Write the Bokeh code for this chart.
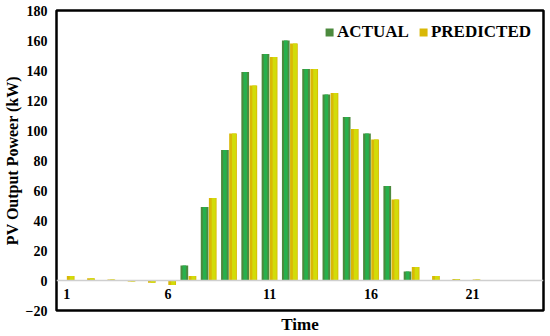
from bokeh.plotting import figure
from bokeh.models import (LinearAxis, FixedTicker, Range1d, Legend, LegendItem,
                          Title, ColumnDataSource)
from bokeh.transform import dodge
from bokeh.embed import file_html
from bokeh.resources import INLINE

hours = list(range(1, 25))
actual = [0, 0, 0, 0, 0, 0, 10, 49, 87, 139, 151, 160, 141, 124, 109, 98, 63, 6,
          0, 0, 0, 0, 0, 0]
predicted = [3, 1.5, 0.6, -0.6, -1.5, -3, 3, 55, 98, 130, 149, 158, 141, 125, 101,
             94, 54, 9, 3, 1, 0.6, 0.4, 0.3, 0.3]
x_ticks = [1, 6, 11, 16, 21]
y_ticks = [-20, 0, 20, 40, 60, 80, 100, 120, 140, 160, 180]

src = ColumnDataSource(dict(hour=hours, actual=actual, predicted=predicted))

FONT = "Liberation Serif"

p = figure(width=550, height=336, output_backend="svg", toolbar_location=None,
           x_range=Range1d(0.5, 24.5), y_range=Range1d(-20, 180),
           x_axis_location=None, min_border_top=10, min_border_right=7,
           min_border_bottom=0, min_border_left=2)
p.grid.visible = False
p.outline_line_color = "black"
p.outline_line_width = 2.5
p.background_fill_color = "white"
p.border_fill_color = "white"

# y axis
ya = p.yaxis[0]
ya.ticker = FixedTicker(ticks=y_ticks)
ya.axis_line_color = None
ya.major_tick_line_color = None
ya.minor_tick_line_color = None
ya.major_tick_out = 0
ya.major_tick_in = 0
ya.major_label_standoff = 9
ya.major_label_text_font = FONT
ya.major_label_text_font_style = "bold"
ya.major_label_text_font_size = "14px"
ya.major_label_text_color = "black"
ya.axis_label = "PV Output Poweer (kW)"
ya.axis_label_text_font = FONT
ya.axis_label_text_font_style = "bold"
ya.axis_label_text_font_size = "16px"
ya.axis_label_text_color = "black"
ya.axis_label_standoff = 2

# bars
a_outer = p.vbar(x=dodge("hour", -0.2, range=p.x_range), top="actual", bottom=0,
                 width=0.38, source=src, fill_color="#4c8a3e", line_color=None)
p.vbar(x=dodge("hour", -0.2, range=p.x_range), top="actual", bottom=0,
       width=0.18, source=src, fill_color="#27b04c", line_color=None)
p_outer = p.vbar(x=dodge("hour", 0.2, range=p.x_range), top="predicted", bottom=0,
                 width=0.38, source=src, fill_color="#d9b806", line_color=None)
p.vbar(x=dodge("hour", 0.25, range=p.x_range), top="predicted", bottom=0,
       width=0.2, source=src, fill_color="#d2dc0a", line_color=None)

# x axis crossing at zero
xa = LinearAxis(fixed_location=0, ticker=FixedTicker(ticks=x_ticks))
xa.axis_line_color = "#cfcfcf"
xa.axis_line_width = 1.5
xa.major_tick_line_color = None
xa.minor_tick_line_color = None
xa.major_tick_out = 0
xa.major_tick_in = 0
xa.major_label_standoff = 8
xa.major_label_text_font = FONT
xa.major_label_text_font_style = "bold"
xa.major_label_text_font_size = "14px"
xa.major_label_text_color = "black"
p.add_layout(xa, "below")

p.add_layout(Title(text="Time", align="center", text_font=FONT,
                   text_font_style="bold", text_font_size="17px",
                   text_color="black", offset=0, standoff=5), "below")

# legend
legend = Legend(items=[LegendItem(label="ACTUAL", renderers=[a_outer]),
                       LegendItem(label="PREDICTED", renderers=[p_outer])],
                orientation="horizontal", location="top_right",
                label_text_font=FONT, label_text_font_style="bold",
                label_text_font_size="17px", label_text_color="black",
                glyph_width=10, glyph_height=10, label_standoff=3, spacing=9,
                background_fill_alpha=0, border_line_color=None,
                margin=12, padding=4)
p.add_layout(legend)

open("out.html", "w").write(file_html(p, INLINE))
